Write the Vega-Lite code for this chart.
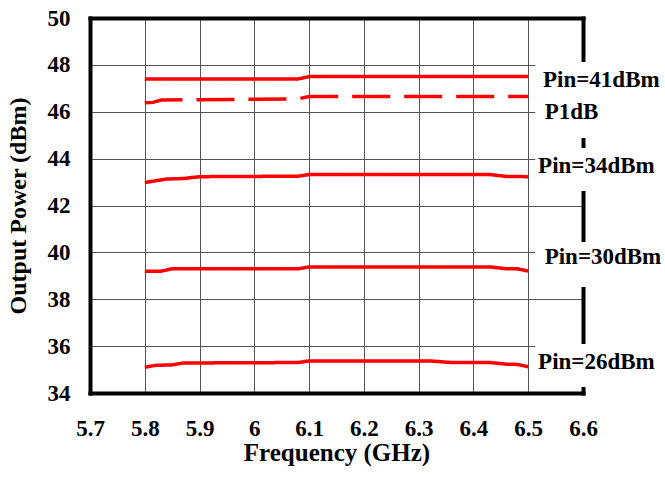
{
  "$schema": "https://vega.github.io/schema/vega-lite/v6.json",
  "width": 493,
  "height": 375,
  "autosize": "none",
  "padding": {"left": 90, "top": 18, "right": 82, "bottom": 84},
  "background": "white",
  "config": {
    "font": "Liberation Serif",
    "view": {"stroke": null},
    "axis": {
      "labelFont": "Liberation Serif",
      "labelFontSize": 23,
      "labelFontWeight": "bold",
      "labelColor": "black",
      "titleFont": "Liberation Serif",
      "titleFontSize": 25,
      "titleFontWeight": "bold",
      "titleColor": "black",
      "gridColor": "#555555",
      "gridWidth": 1,
      "gridOpacity": 1,
      "ticks": false,
      "domainColor": "black",
      "domainWidth": 4,
      "domainCap": "square"
    }
  },
  "datasets": {
    "series": [
      {"series": "Pin=41dBm", "freq": 5.8, "power": 47.4},
      {"series": "Pin=41dBm", "freq": 6.08, "power": 47.4},
      {"series": "Pin=41dBm", "freq": 6.1, "power": 47.5},
      {"series": "Pin=41dBm", "freq": 6.5, "power": 47.5},
      {"series": "P1dB", "freq": 5.8, "power": 46.38},
      {"series": "P1dB", "freq": 5.815, "power": 46.4},
      {"series": "P1dB", "freq": 5.83, "power": 46.5},
      {"series": "P1dB", "freq": 6.08, "power": 46.55},
      {"series": "P1dB", "freq": 6.1, "power": 46.65},
      {"series": "P1dB", "freq": 6.5, "power": 46.65},
      {"series": "Pin=34dBm", "freq": 5.8, "power": 42.98},
      {"series": "Pin=34dBm", "freq": 5.84, "power": 43.13},
      {"series": "Pin=34dBm", "freq": 5.87, "power": 43.15},
      {"series": "Pin=34dBm", "freq": 5.9, "power": 43.23},
      {"series": "Pin=34dBm", "freq": 6.08, "power": 43.25},
      {"series": "Pin=34dBm", "freq": 6.1, "power": 43.32},
      {"series": "Pin=34dBm", "freq": 6.43, "power": 43.32},
      {"series": "Pin=34dBm", "freq": 6.46, "power": 43.24},
      {"series": "Pin=34dBm", "freq": 6.5, "power": 43.23},
      {"series": "Pin=30dBm", "freq": 5.8, "power": 39.2},
      {"series": "Pin=30dBm", "freq": 5.83, "power": 39.2},
      {"series": "Pin=30dBm", "freq": 5.85, "power": 39.3},
      {"series": "Pin=30dBm", "freq": 6.08, "power": 39.3},
      {"series": "Pin=30dBm", "freq": 6.1, "power": 39.38},
      {"series": "Pin=30dBm", "freq": 6.43, "power": 39.38},
      {"series": "Pin=30dBm", "freq": 6.46, "power": 39.3},
      {"series": "Pin=30dBm", "freq": 6.48, "power": 39.3},
      {"series": "Pin=30dBm", "freq": 6.5, "power": 39.2},
      {"series": "Pin=26dBm", "freq": 5.8, "power": 35.1},
      {"series": "Pin=26dBm", "freq": 5.82, "power": 35.18},
      {"series": "Pin=26dBm", "freq": 5.85, "power": 35.2},
      {"series": "Pin=26dBm", "freq": 5.87, "power": 35.28},
      {"series": "Pin=26dBm", "freq": 6.08, "power": 35.3},
      {"series": "Pin=26dBm", "freq": 6.1, "power": 35.37},
      {"series": "Pin=26dBm", "freq": 6.32, "power": 35.37},
      {"series": "Pin=26dBm", "freq": 6.36, "power": 35.3},
      {"series": "Pin=26dBm", "freq": 6.43, "power": 35.3},
      {"series": "Pin=26dBm", "freq": 6.46, "power": 35.23},
      {"series": "Pin=26dBm", "freq": 6.48, "power": 35.22},
      {"series": "Pin=26dBm", "freq": 6.5, "power": 35.12}
    ],
    "labels": [
      {"label": "Pin=41dBm", "x": 6.527, "y": 47.35, "y0": 48.12, "y1": 46.59},
      {"label": "P1dB", "x": 6.53, "y": 45.99, "y0": 46.59, "y1": 44.88},
      {"label": "Pin=34dBm", "x": 6.518, "y": 43.68, "y0": 44.45, "y1": 42.62},
      {"label": "Pin=30dBm", "x": 6.53, "y": 39.8, "y0": 40.44, "y1": 38.52},
      {"label": "Pin=26dBm", "x": 6.518, "y": 35.32, "y0": 36.09, "y1": 34.26}
    ]
  },
  "layer": [
    {
      "data": {"name": "labels"},
      "mark": {"type": "rect", "fill": "white", "stroke": null},
      "encoding": {
        "x": {"datum": 6.513, "type": "quantitative",
              "scale": {"domain": [5.7, 6.6], "nice": false, "zero": false},
              "axis": {"orient": "top", "labels": false, "grid": false, "ticks": false, "title": null}},
        "x2": {"datum": 6.8},
        "y": {"field": "y0", "type": "quantitative",
              "scale": {"domain": [34, 50], "nice": false, "zero": false},
              "axis": {"orient": "right", "labels": false, "grid": false, "ticks": false, "title": null}},
        "y2": {"field": "y1"}
      }
    },
    {
      "data": {"name": "series"},
      "mark": {"type": "line", "color": "#ff0000", "strokeWidth": 3.5, "strokeCap": "butt"},
      "encoding": {
        "x": {"field": "freq", "type": "quantitative",
              "axis": {"orient": "bottom", "grid": true, "values": [5.7, 5.8, 5.9, 6.0, 6.1, 6.2, 6.3, 6.4, 6.5, 6.6],
                       "format": "~g", "labelFlush": false, "labelOverlap": false,
                       "labelPadding": 24, "title": "Frequency (GHz)", "titlePadding": 0}},
        "y": {"field": "power", "type": "quantitative",
              "axis": {"orient": "left", "grid": true, "values": [34, 36, 38, 40, 42, 44, 46, 48, 50],
                       "labelFlush": false, "labelOverlap": false,
                       "labelPadding": 20, "title": "Output Power (dBm)", "titleFontSize": 24, "titlePadding": 17}},
        "detail": {"field": "series"},
        "strokeDash": {"field": "series", "type": "nominal", "legend": null,
                       "scale": {"domain": ["Pin=41dBm", "P1dB", "Pin=34dBm", "Pin=30dBm", "Pin=26dBm"],
                                 "range": [[1, 0], [38, 14], [1, 0], [1, 0], [1, 0]]}}
      }
    },
    {
      "data": {"name": "labels"},
      "mark": {"type": "text", "align": "left", "baseline": "middle", "fontSize": 23, "fontWeight": "bold", "font": "Liberation Serif", "color": "black"},
      "encoding": {
        "x": {"field": "x", "type": "quantitative", "axis": null},
        "y": {"field": "y", "type": "quantitative", "axis": null},
        "text": {"field": "label"}
      }
    }
  ]
}
